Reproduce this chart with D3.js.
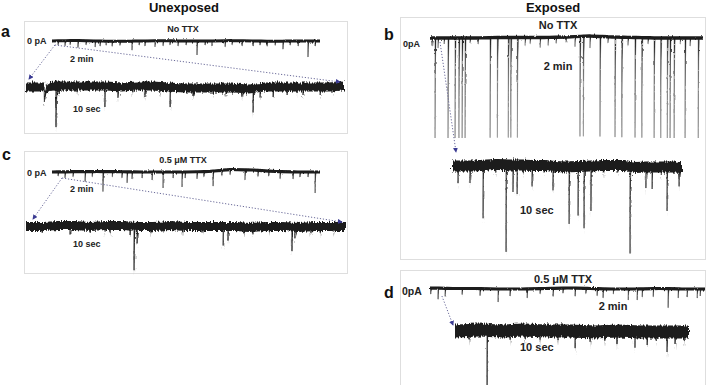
<!DOCTYPE html>
<html><head><meta charset="utf-8">
<script src="https://cdn.jsdelivr.net/npm/d3@7"></script>
<style>body{margin:0;background:#fff}svg{display:block;font-family:Arial,"Liberation Sans",sans-serif}</style>
</head><body><svg id="c" width="708" height="385"></svg>
<script>
// ---------------- DATA ----------------
const groupTitles = ["Unexposed", "Exposed"];
const panelLabels = ["a", "b", "c", "d"];
const conditionLabels = ["No TTX", "No TTX", "0.5 μM TTX", "0.5 μM TTX"];
const zeroLabels = ["0 pA", "0pA", "0 pA", "0pA"];
const longLabel = "2 min";
const shortLabel = "10 sec";
const longDuration = 120;   // s
const shortDuration = 10;   // s

// baseline drift (pA, evenly spaced over the record) and events [time s, amplitude pA, (decay s)]
const aLongBase = [0, 0.5, 0, -0.3, 0, 0.3, 0, 0, 0.4, 0, -0.2, 0, 0];
const aLongEvents = [[2.7,4],[5.8,5],[8.1,4],[11.6,7],[15.2,4],[19.3,6],[21.5,5],[24.2,4],[26.9,5],[30.4,4],[35.8,9],[39,4],[41.6,5],[46.1,6],[49.7,5],[52.8,4],[56.4,5],[60,4],[64.9,14],[68.5,4],[71.6,5],[77.5,6],[80.6,4],[85.1,5],[90,5],[93.1,4],[96.3,5],[99.9,4],[103.4,8],[106.6,4],[110.2,5],[114.6,16],[117.8,5]];
const aShortBase = [0, 0, 1, 1, 1, 1, 0, 1, 1, 0, -1, -1, -1, -1, -2, 0, 0, 0, 0, 0, 1];
const aShortEvents = [[0.57,15,0.05],[0.94,41,0.02],[1.04,8],[1.6,6],[2.48,21],[2.89,11],[3.36,6],[3.74,11],[4.2,6],[4.53,20],[5.25,8],[5.88,6],[6.3,6],[6.79,8],[7.14,24],[7.36,10],[7.77,10],[8.21,8],[8.52,6],[8.71,8],[9.25,8],[9.62,6]];

const bLongBase = [0, 0, 0, 0.5, 0.5, 0.5, 1, 2, 1, 0.5, 0, 0, 0];
const bLongEvents = [[2.2,100],[7.9,100],[11,100],[12.7,100],[14.1,100],[15.4,100],[26.4,100],[29.6,100],[34.4,100],[35.5,100],[38.4,100],[65.9,100],[67.4,100],[74.7,100],[81.3,100],[84.3,100],[90.1,100],[93.1,100],[98.5,100],[101.4,100],[104.3,100],[105.5,100],[107.3,100],[112.1,100],[117.9,100],
  [0.9,8],[3.5,10],[6.2,6],[17.6,5],[21.1,6],[41.8,8],[44,6],[48.4,10],[51.9,8],[55.4,6],[59.8,5],[63.7,10],[70.3,12],[78.2,6],[87,8],[95.8,6],[110,6],[114.3,8]];
const bShortBase = [0, 0, 0, 1, 1.5, 1, 1, 0.5, 0.5, -0.5, -1, -0.5, 0, 0.5, 0.5, 0.5, -1.5, -1, -1, -1, -1.5];
const bShortEvents = [[0.26,17],[0.78,17],[1.35,53],[1.9,8],[2.35,87],[2.65,27],[2.83,29],[3.1,8],[3.48,21],[4.0,7],[4.39,24],[5.09,57],[5.48,49],[5.74,62],[6.04,45],[6.6,7],[7.2,7],[7.74,87],[8.43,21],[8.7,22],[9.1,8],[9.35,44],[9.87,19]];

const cLongBase = [0, 0.3, 0.5, 0.3, 0, 0, 0, 0.5, 2.5, 2, 0.5, 0, 0];
const cLongEvents = [[2.7,4],[5.8,6],[9.4,5],[14.8,10],[18,5],[22.8,20],[27,5],[31.3,6],[33.6,11],[35.8,7],[40.3,6],[44.8,8],[49.7,16],[54.2,6],[58.2,15],[59.6,6],[64.9,7],[68,5],[72.1,15],[76,5],[79.7,5],[86.4,10],[92.2,6],[97,5],[102.1,7],[107.9,7],[111,5],[114.6,5],[117.8,21]];
const cShortBase = [0, 0, 1, 1, 0, 1, 1, 0, 0, 1, 0, 0, 0, 0, -1, 0, 0, -1, 0, 0, 0];
const cShortEvents = [[0.5,6],[1.375,9],[2.0,6],[2.47,6],[2.63,7],[3.25,9],[3.375,44],[3.47,17],[3.9,6],[4.28,5],[4.9,6],[5.5,6],[6.16,19],[6.31,14],[6.8,6],[7.09,7],[7.6,5],[8.31,24],[8.4,11],[8.9,6],[9.19,6],[9.6,5]];

const dLongBase = [1, 0.5, 0.5, 0, 0, 0.5, 1, 0.5, 0, 0, 0.5, 0, 0];
const dLongEvents = [[0.3,6],[3.5,11],[6.6,8],[14,6],[21.8,7],[29.7,13],[34.9,7],[42.4,9],[48,5],[53.7,8],[58,5],[63.3,8],[68,5],[72.9,7],[75.5,9],[80,5],[86.5,11],[90.4,11],[92.6,8],[97.4,8],[103.9,19],[108.3,9],[112.2,8],[116.6,9],[117.9,7]];
const dShortBase = [0, 1, 0, 1, 0, 0, -1, 0, -1, -1, -1];
const dShortEvents = [[0.6,9],[1.37,56],[2.35,9],[3.0,9],[3.63,9],[4.4,9],[5.13,17],[5.77,10],[6.4,9],[6.92,13],[7.69,16],[8.21,13],[8.6,9],[9.06,20],[9.4,12],[9.8,9]];

// zoom window start within the 2-min record (s)
const zoomStart = [1.3, 4.4, 4.5, 5.2];

// ---------------- LAYOUT / STYLE ----------------
const svg = d3.select("#c");
const defs = svg.append("defs");
function noiseFilter(id, scale, seed) {
  const f = defs.append("filter").attr("id", id)
    .attr("filterUnits", "userSpaceOnUse").attr("x", 0).attr("y", 0).attr("width", 708).attr("height", 385);
  f.append("feTurbulence").attr("type", "fractalNoise").attr("baseFrequency", "0.9 0.15")
    .attr("numOctaves", 2).attr("seed", seed).attr("result", "n");
  f.append("feDisplacementMap").attr("in", "SourceGraphic").attr("in2", "n")
    .attr("scale", scale).attr("xChannelSelector", "G").attr("yChannelSelector", "R");
}
noiseFilter("fzS", 5.5, 3);
noiseFilter("fzL", 2.4, 7);
defs.append("marker").attr("id", "arr").attr("viewBox", "0 0 6 6").attr("refX", 5).attr("refY", 3)
  .attr("markerWidth", 5).attr("markerHeight", 5).attr("markerUnits", "userSpaceOnUse").attr("orient", "auto")
  .append("path").attr("d", "M0,0L6,3L0,6Z").attr("fill", "#3a3a92");

const kernel = [[0, 0], [0.15, 1], [0.6, 0.55], [1.4, 0.22], [3, 0]];
function kAt(u) {
  if (u <= 0 || u >= 3) return 0;
  for (let i = 1; i < kernel.length; i++) {
    if (u <= kernel[i][0]) {
      const [u0, v0] = kernel[i - 1], [u1, v1] = kernel[i];
      return v0 + (v1 - v0) * (u - u0) / (u1 - u0);
    }
  }
  return 0;
}
function buildTrace(base, events, T, tau0, slowTau) {
  const step = T / (base.length - 1);
  const baseAt = t => {
    const i = Math.min(base.length - 2, Math.max(0, Math.floor(t / step)));
    const f = (t - i * step) / step;
    return base[i] + (base[i + 1] - base[i]) * f;
  };
  const ts = new Set(base.map((_, i) => i * step));
  events.forEach(e => {
    const tau = e[2] || tau0;
    kernel.forEach(k => { const t = e[0] + k[0] * tau; if (t >= 0 && t <= T) ts.add(t); });
  });
  return Array.from(ts).sort((a, b) => a - b).map(t => {
    let v = baseAt(t), slow = baseAt(t);
    events.forEach(e => {
      const tau = e[2] || tau0;
      const c = e[1] * kAt((t - e[0]) / tau);
      v -= c;
      if (tau >= slowTau) slow -= c;
    });
    return { t, v, slow };
  });
}

const panels = [
  { i: 0, box: [24, 21, 347, 133], lab: [1, 37], labFs: 16, fs: 9, zfs: 9,
    cond: [183, 32], zero: [27, 44],
    L: { x: [52, 320], y0: 41, h: 1.5, base: aLongBase, ev: aLongEvents, col: "#7a7a7a" },
    Ll: [70, 62], Llanchor: "start",
    S: { x: [26, 344], y0: 87, h: 4.5, base: aShortBase, ev: aShortEvents, col: "#4a4a4a" },
    Sl: [73, 112], srcDy: 4, arrows: [[0, 3, -8], [1, -4, -5]] },
  { i: 1, box: [400, 17, 705, 259], lab: [384, 40], labFs: 16, fs: 11, zfs: 9,
    cond: [558, 29], zero: [403, 47],
    L: { x: [430, 703], y0: 38, h: 1.7, base: bLongBase, ev: bLongEvents, col: "#a2a2a2" },
    Ll: [558, 70], Llanchor: "middle",
    S: { x: [452, 682], y0: 166, h: 5.5, base: bShortBase, ev: bShortEvents, col: "#5a5a5a" },
    Sl: [520, 214], srcDy: 4, arrows: [[0, 4, -14]] },
  { i: 2, box: [24, 151, 347, 273], lab: [2, 160], labFs: 16, fs: 9, zfs: 9,
    cond: [183, 163], zero: [27, 176],
    L: { x: [52, 320], y0: 172, h: 1.6, base: cLongBase, ev: cLongEvents, col: "#7a7a7a" },
    Ll: [70, 192], Llanchor: "start",
    S: { x: [26, 346], y0: 226.5, h: 4.5, base: cShortBase, ev: cShortEvents, col: "#4a4a4a" },
    Sl: [73, 247], srcDy: 6, arrows: [[0, 7, -7.5], [1, -4, -4.5]] },
  { i: 3, box: [400, 270, 705, 392], lab: [384, 298], labFs: 16, fs: 11, zfs: 10.5,
    cond: [563, 283], zero: [402, 295],
    L: { x: [430, 705], y0: 289, h: 1.6, base: dLongBase, ev: dLongEvents, col: "#7a7a7a" },
    Ll: [613, 310], Llanchor: "middle",
    S: { x: [455, 689], y0: 331, h: 6.5, base: dShortBase, ev: dShortEvents, col: "#4a4a4a" },
    Sl: [520, 351], srcDy: 7, arrows: [[0, -2, -6]] }
];

// group titles
svg.append("text").attr("x", 184).attr("y", 12).attr("text-anchor", "middle")
  .attr("font-size", 13).attr("font-weight", "bold").attr("fill", "#111").text(groupTitles[0]);
svg.append("text").attr("x", 553).attr("y", 12).attr("text-anchor", "middle")
  .attr("font-size", 13).attr("font-weight", "bold").attr("fill", "#111").text(groupTitles[1]);

function drawTrace(g, spec, T, tau0, slowTau, filterId) {
  const x = d3.scaleLinear().domain([0, T]).range(spec.x);
  const y = d3.scaleLinear().domain([0, -100]).range([spec.y0, spec.y0 + 100]);
  const pts = buildTrace(spec.base, spec.ev, T, tau0, slowTau);
  g.append("path").attr("d", d3.line().x(d => x(d.t)).y(d => y(d.v))(pts))
    .attr("fill", "none").attr("stroke", spec.col).attr("stroke-width", 1);
  g.append("path").attr("d", d3.area().x(d => x(d.t)).y0(d => y(d.slow) - spec.h).y1(d => y(d.v) + spec.h)(pts))
    .attr("fill", "#1c1c1c").attr("filter", `url(#${filterId})`);
  return { x, y };
}

panels.forEach(p => {
  const g = svg.append("g");
  const [x0, y0, x1, y1] = p.box;
  g.append("rect").attr("x", x0 + 0.5).attr("y", y0 + 0.5).attr("width", x1 - x0).attr("height", y1 - y0)
    .attr("fill", "none").attr("stroke", "#dedede").attr("stroke-width", 1);
  svg.append("text").attr("x", p.lab[0]).attr("y", p.lab[1]).attr("font-size", p.labFs).attr("font-weight", "bold")
    .attr("fill", "#111").text(panelLabels[p.i]);
  g.append("text").attr("x", p.cond[0]).attr("y", p.cond[1]).attr("text-anchor", "middle").attr("font-size", p.fs)
    .attr("font-weight", "bold").attr("fill", "#222").text(conditionLabels[p.i]);
  g.append("text").attr("x", p.zero[0]).attr("y", p.zero[1]).attr("font-size", p.zfs)
    .attr("font-weight", "bold").attr("fill", "#222").text(zeroLabels[p.i]);

  const L = drawTrace(g, p.L, longDuration, 0.15, 99, "fzL");
  const S = drawTrace(g, p.S, shortDuration, 0.012, 0.04, "fzS");

  g.append("text").attr("x", p.Ll[0]).attr("y", p.Ll[1]).attr("text-anchor", p.Llanchor).attr("font-size", p.fs)
    .attr("font-weight", "bold").attr("fill", "#222").text(longLabel);
  g.append("text").attr("x", p.Sl[0]).attr("y", p.Sl[1]).attr("font-size", p.fs)
    .attr("font-weight", "bold").attr("fill", "#222").text(shortLabel);

  const src = [L.x(zoomStart[p.i]), L.y(0) + p.srcDy];
  p.arrows.forEach(([end, dx, dy]) => {
    const dst = [S.x(end * shortDuration) + dx, S.y(0) + dy];
    g.append("line").attr("x1", src[0]).attr("y1", src[1]).attr("x2", dst[0]).attr("y2", dst[1])
      .attr("stroke", "#6b6b9a").attr("stroke-width", 1).attr("stroke-dasharray", "1.2,1.8")
      .attr("marker-end", "url(#arr)");
  });
});
</script></body></html>
